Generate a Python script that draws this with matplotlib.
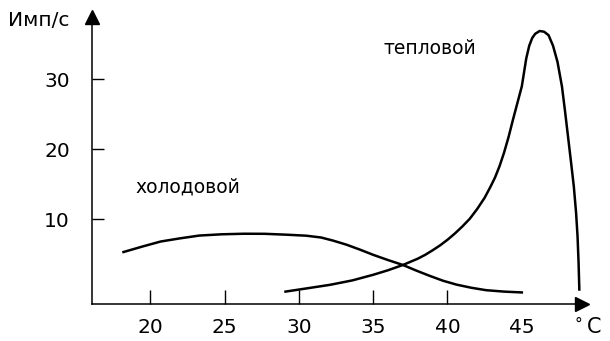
import matplotlib.pyplot as plt

# холодовой рецептор
cold_x = [18.2, 19.5, 20.7, 22.0, 23.3, 24.8, 26.3, 27.7, 29.2, 30.5, 31.5, 32.3, 33.2, 34.1, 35.0,
          36.0, 37.0, 37.9, 38.8, 39.7, 40.6, 41.6, 42.6, 43.8, 45.0]
cold_y = [5.35, 6.15, 6.85, 7.3, 7.7, 7.88, 7.96, 7.95, 7.82, 7.68, 7.42, 6.98, 6.4, 5.7, 4.95,
          4.2, 3.5, 2.7, 1.95, 1.25, 0.7, 0.25, -0.1, -0.3, -0.42]

# тепловой рецептор
warm_x = [29.1, 30.5, 32.1, 33.6, 35.0, 36.0, 37.0, 38.0, 38.5, 39.0, 39.5, 40.0, 40.5, 41.0, 41.5,
          42.0, 42.5, 42.9, 43.2, 43.5, 43.8, 44.1, 44.4, 44.7, 45.0, 45.15, 45.3, 45.5, 45.7, 45.9,
          46.2, 46.5, 46.8, 47.1, 47.4, 47.7, 47.9, 48.1, 48.3, 48.5, 48.65, 48.75, 48.82, 48.87]
warm_y = [-0.3, 0.15, 0.67, 1.3, 2.1, 2.75, 3.5, 4.4, 4.95, 5.6, 6.3, 7.1, 8.0, 9.0, 10.1,
          11.5, 13.1, 14.7, 16.0, 17.6, 19.5, 21.7, 24.2, 26.6, 29.0, 31.0, 33.0, 34.8, 35.9, 36.5,
          36.9, 36.8, 36.3, 34.8, 32.5, 29.0, 25.6, 22.0, 18.4, 14.7, 11.0, 7.6, 3.8, 0.0]

xticks = [20, 25, 30, 35, 40, 45]
yticks = [10, 20, 30]

plt.rcParams['font.family'] = ['DejaVu Sans']

fig = plt.figure(figsize=(6.1, 3.41), dpi=100)
ax = fig.add_axes([92/610, 37/341, 490/610, 287/341])

ax.plot(cold_x, cold_y, color='black', lw=1.8)
ax.plot(warm_x, warm_y, color='black', lw=1.8)

ax.set_xlim(16.08, 49.05)
ax.set_ylim(-2.07, 38.9)

for s in ['top', 'right']:
    ax.spines[s].set_visible(False)
for s in ['left', 'bottom']:
    ax.spines[s].set_linewidth(1.1)
ax.plot(1, 0, '>k', ms=10, transform=ax.transAxes, clip_on=False)
ax.plot(0, 1, '^k', ms=10, transform=ax.transAxes, clip_on=False)

ax.set_xticks(xticks)
ax.set_yticks(yticks)
ax.tick_params(axis='x', direction='in', length=10, width=1.0, pad=10, labelsize=14.5)
ax.tick_params(axis='y', direction='in', length=8.6, width=1.0, pad=16, labelsize=14.5)
ax.xaxis.get_major_ticks()[-1].tick1line.set_visible(False)

ax.text(19.0, 13.8, 'холодовой', fontsize=13.5)
ax.text(35.7, 33.6, 'тепловой', fontsize=13.5)

fig.text(8/610, 1 - 20/341, 'Имп/с', fontsize=14.5, va='center', ha='left')
fig.text(575/610, 1 - 324/341, '°', fontsize=11, va='center', ha='left')
fig.text(587/610, 1 - 327/341, 'C', fontsize=15, va='center', ha='left')

fig.savefig('out.png', dpi=100)
